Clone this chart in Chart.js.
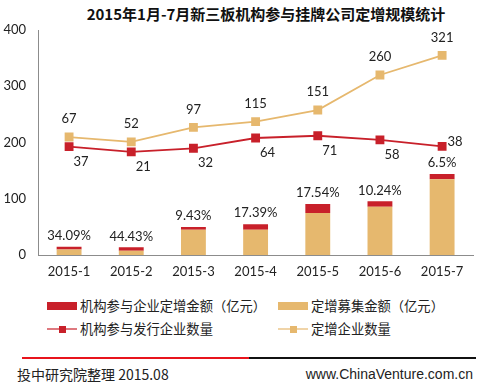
<!DOCTYPE html>
<html>
<head>
<meta charset="utf-8">
<script src="https://cdn.jsdelivr.net/npm/chart.js@4/dist/chart.umd.min.js"></script>
<style>
  body { margin: 0; background: #fff; }
  #wrap { position: relative; width: 480px; height: 383px; overflow: hidden; font-family: "Noto Sans CJK SC", sans-serif; color: #222; }
  #title { position: absolute; left: 83px; top: 3px; width: 366px; text-align: center; font-size: 15px; font-weight: bold; white-space: nowrap; color: #111; }
  #chartBox { position: absolute; left: 0; top: 0; width: 480px; height: 290px; }
  .lg { position: absolute; height: 18px; line-height: 18px; font-size: 13.3px; white-space: nowrap; }
  .lg .sym { position: absolute; left: 0; top: 0; width: 30px; height: 18px; }
  .lg .txt { position: absolute; left: 33px; top: 0; }
  .rule { position: absolute; top: 357px; height: 2px; }
  .foot { position: absolute; top: 365px; font-size: 14px; line-height: 18px; white-space: nowrap; color: #222; }
</style>
</head>
<body>
<div id="wrap">
  <div id="title">2015年1月-7月新三板机构参与挂牌公司定增规模统计</div>
  <div id="chartBox"><canvas id="chart" width="480" height="290"></canvas></div>
  <div id="legend"></div>
  <div class="rule" style="left:22px;width:227px;background:#e8141c;"></div>
  <div class="rule" style="left:249px;width:227px;background:#111;"></div>
  <div class="foot" style="left:17px;">投中研究院整理 2015.08</div>
  <div class="foot" style="right:7px;font-family:'Liberation Sans',sans-serif;">www.ChinaVenture.com.cn</div>
</div>
<script>
const months = ["2015-1", "2015-2", "2015-3", "2015-4", "2015-5", "2015-6", "2015-7"];
// bottom part of each bar and the institutional part stacked on top (亿元)
const raisedRest = [9.8, 7.6, 45.1, 45.1, 74.8, 85.6, 134.6];
const instAmount = [5.0, 6.0, 4.7, 9.5, 15.9, 9.8, 9.4];
const shareLabels = ["34.09%", "44.43%", "9.43%", "17.39%", "17.54%", "10.24%", "6.5%"];
const instCompanies = [37, 21, 32, 64, 71, 58, 38];
const allCompanies = [67, 52, 97, 115, 151, 260, 321];

const red = "#c8202a";
const tan = "#e6b86e";

const names = ["机构参与企业定增金额（亿元）", "定增募集金额（亿元）", "机构参与发行企业数量", "定增企业数量"];

const labelPlugin = {
    id: "valueLabels",
    afterDatasetsDraw(chart) {
        const ctx = chart.ctx;
        ctx.save();
        ctx.font = "13px Lato";
        ctx.fillStyle = "#222";
        ctx.textAlign = "center";
        ctx.textBaseline = "middle";

        chart.getDatasetMeta(1).data.forEach((bar, i) => {
            ctx.fillText(shareLabels[i], bar.x, bar.y - 11);
        });
        chart.getDatasetMeta(3).data.forEach((pt, i) => {
            ctx.fillText(allCompanies[i], pt.x, pt.y - 18);
        });
        const redPts = chart.getDatasetMeta(2).data;
        redPts.forEach((pt, i) => {
            if (i === redPts.length - 1) ctx.fillText(instCompanies[i], pt.x + 13, pt.y - 5);
            else ctx.fillText(instCompanies[i], pt.x + 12, pt.y + 15);
        });
        ctx.restore();
    }
};

new Chart("chart", {
    data: {
        labels: months,
        datasets: [
            {
                type: "bar",
                label: names[1],
                data: raisedRest,
                backgroundColor: tan,
                stack: "amount",
                order: 2
            },
            {
                type: "bar",
                label: names[0],
                data: instAmount,
                backgroundColor: red,
                stack: "amount",
                order: 2
            },
            {
                type: "line",
                label: names[2],
                data: instCompanies,
                yAxisID: "y1",
                borderColor: red,
                backgroundColor: red,
                borderWidth: 1.8,
                pointStyle: "rect",
                pointRadius: 5,
                order: 0
            },
            {
                type: "line",
                label: names[3],
                data: allCompanies,
                yAxisID: "y1",
                borderColor: tan,
                backgroundColor: tan,
                borderWidth: 1.8,
                pointStyle: "rect",
                pointRadius: 5,
                order: 1
            }
        ]
    },
    options: {
        responsive: false,
        animation: false,
        devicePixelRatio: 1,
        layout: {padding: {top: 30, right: 3.5, left: 0, bottom: 10}},
        datasets: {bar: {categoryPercentage: 0.8, barPercentage: 0.5}},
        plugins: {
            legend: {display: false},
            title: {display: false},
            tooltip: {enabled: false}
        },
        scales: {
            x: {
                stacked: true,
                grid: {display: false, drawTicks: false},
                border: {display: true, color: "#8c8c8c", width: 1},
                ticks: {color: "#222", font: {family: "Lato", size: 13}, padding: 9},
                afterFit(scale) { scale.height = 25; }
            },
            y: {
                stacked: true,
                min: 0,
                max: 400,
                grid: {display: false, drawTicks: false},
                border: {display: true, color: "#8c8c8c", width: 1},
                ticks: {stepSize: 100, color: "#222", font: {family: "Lato", size: 13}, padding: 12},
                afterFit(scale) { scale.width = 38; }
            },
            y1: {
                display: false,
                min: -300,
                max: 400
            }
        }
    },
    plugins: [labelPlugin]
});

// legend, 2 x 2
const legendItems = [
    {text: names[0], color: red, kind: "box", x: 47, y: 297},
    {text: names[1], color: tan, kind: "box", x: 278, y: 297},
    {text: names[2], color: red, kind: "line", x: 47, y: 320},
    {text: names[3], color: tan, kind: "line", x: 278, y: 320}
];
const legendBox = document.getElementById("legend");
legendItems.forEach(item => {
    const el = document.createElement("div");
    el.className = "lg";
    el.style.left = item.x + "px";
    el.style.top = item.y + "px";
    let sym;
    if (item.kind === "box") {
        sym = `<div class="sym"><div style="position:absolute;left:0;top:5px;width:30px;height:8px;background:${item.color}"></div></div>`;
    } else {
        sym = `<div class="sym"><div style="position:absolute;left:0;top:8px;width:30px;height:2px;background:${item.color};opacity:0.6"></div>` +
              `<div style="position:absolute;left:11.5px;top:5.5px;width:7px;height:7px;background:${item.color}"></div></div>`;
    }
    el.innerHTML = sym + `<span class="txt">${item.text}</span>`;
    legendBox.appendChild(el);
});
</script>
</body>
</html>
